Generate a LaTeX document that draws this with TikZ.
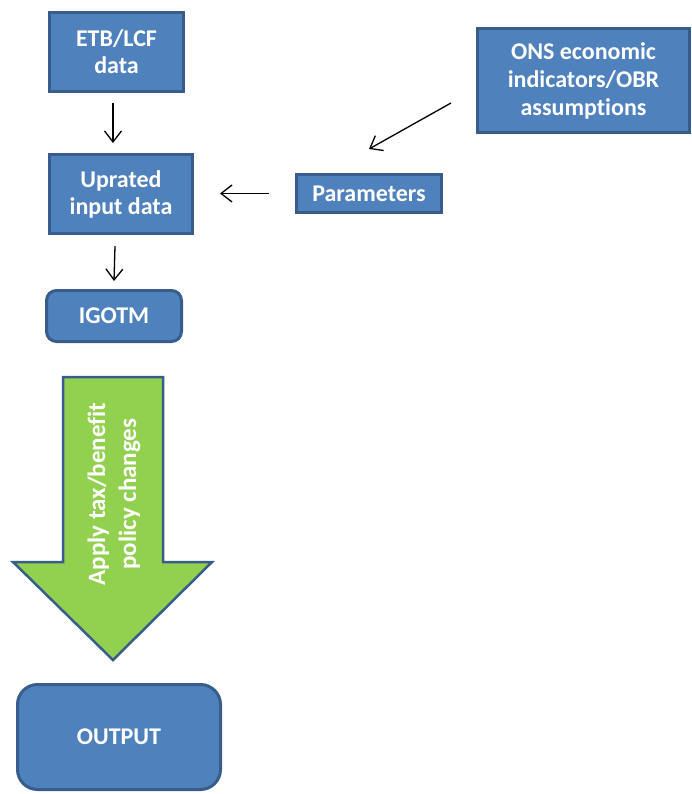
\documentclass[tikz,border=0pt]{standalone}
\usepackage{fontspec}
\setmainfont[Ligatures=NoCommon]{Carlito}
\usetikzlibrary{arrows.meta}
\definecolor{boxfill}{HTML}{4F81BD}
\definecolor{boxedge}{HTML}{385D8A}
\definecolor{arrowgreen}{HTML}{92D050}
\tikzset{
  box/.style={draw=boxedge, line width=3pt, fill=boxfill, text=white,
    font=\fontsize{24}{27}\selectfont\bfseries, align=center, inner sep=0pt},
  conn/.style={draw=black, line width=1.3pt, -{Straight Barb[length=11pt,width=17pt]}},
  bigarrow/.style={draw=boxedge, line width=2.5pt, fill=arrowgreen, line join=miter},
}
\begin{document}
\begin{tikzpicture}[x=1pt,y=-1pt]
\useasboundingbox (0,0) rectangle (692,794);
\fill[white] (0,0) rectangle (692,794);

\node[box, minimum width=134pt, minimum height=79pt] (etb) at (116.5,52) {ETB/LCF\\data};
\node[box, minimum width=143pt, minimum height=79pt] (up) at (121,194) {Uprated\\input data};
\node[box, rounded corners=10pt, minimum width=135pt, minimum height=51pt] (igotm) at (114,316) {IGOTM};
\node[box, minimum width=212pt, minimum height=104pt, font=\fontsize{24}{28}\selectfont\bfseries] (ons) at (583.5,80.5) {ONS economic\\indicators/OBR\\assumptions};
\node[box, minimum width=145pt, minimum height=38pt] (params) at (369,193.5) {Parameters};
\node[box, rounded corners=20pt, minimum width=203pt, minimum height=105pt] (output) at (119,737) {OUTPUT};

\draw[conn] ([xshift=-3.5pt,yshift=-10pt]etb.south) -- ([xshift=-8pt,yshift=10pt]up.north);
\draw[conn] ([xshift=-6pt,yshift=-11pt]up.south) -- ([xshift=0pt,yshift=8pt]igotm.north);
\draw[conn, shorten <=26pt, shorten >=26pt] (params.west) -- (up.east |- params.west);
\coordinate (onsfrom) at (451,103);
\coordinate (paramsto) at (369,149);
\draw[conn] (onsfrom) -- (paramsto);

\draw[bigarrow] (63,377) -- (163,377) -- (163,562) -- (212,562) -- (113,660)
  -- (13,562) -- (63,562) -- cycle;
\node[rotate=90, text=white, align=center, inner sep=0pt,
  font=\fontsize{25}{31}\selectfont\bfseries] (policy) at (114,494) {Apply tax/benefit\\policy changes};
\end{tikzpicture}
\end{document}
